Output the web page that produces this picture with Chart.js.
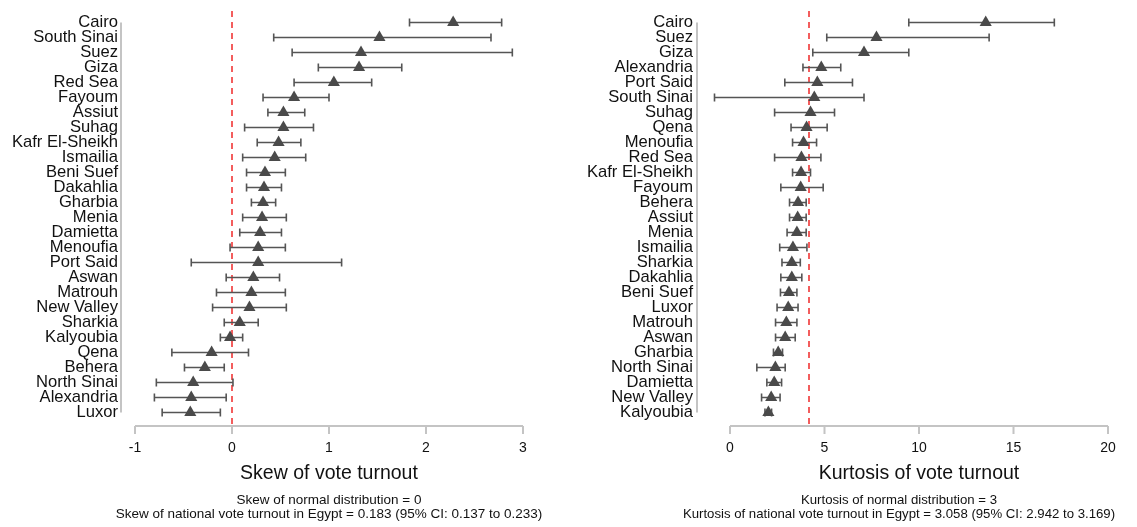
<!DOCTYPE html>
<html>
<head>
<meta charset="utf-8">
<script src="https://cdn.jsdelivr.net/npm/chart.js@4/dist/chart.umd.min.js"></script>
<style>
  body { margin: 0; background: #fff; }
  #wrap { position: relative; width: 1137px; height: 527px; }
  #skewBox { position: absolute; left: 0; top: 0; width: 565px; height: 527px; }
  #kurtBox { position: absolute; left: 565px; top: 0; width: 572px; height: 527px; }
  .note { position: absolute; top: 493px; width: 600px; text-align: center; white-space: nowrap;
    font: 13.5px/14px "Liberation Sans", Arial, sans-serif; color: #111; }
</style>
</head>
<body>
<div id="wrap">
  <div id="skewBox"><canvas id="skewChart"></canvas></div>
  <div id="kurtBox"><canvas id="kurtChart"></canvas></div>
  <div class="note" style="left:29px">Skew of normal distribution = 0<br>Skew of national vote turnout in Egypt = 0.183 (95% CI: 0.137 to 0.233)</div>
  <div class="note" style="left:599px;font-size:13.2px">Kurtosis of normal distribution = 3<br>Kurtosis of national vote turnout in Egypt = 3.058 (95% CI: 2.942 to 3.169)</div>
</div>
<script>
// left panel: skew per governorate (point, 95% CI low, high)
var skewNames = ["Cairo", "South Sinai", "Suez", "Giza", "Red Sea", "Fayoum", "Assiut", "Suhag",
  "Kafr El-Sheikh", "Ismailia", "Beni Suef", "Dakahlia", "Gharbia", "Menia", "Damietta", "Menoufia",
  "Port Said", "Aswan", "Matrouh", "New Valley", "Sharkia", "Kalyoubia", "Qena", "Behera",
  "North Sinai", "Alexandria", "Luxor"];
var skewVals = [2.28, 1.52, 1.33, 1.31, 1.05, 0.64, 0.53, 0.53, 0.48, 0.44, 0.34, 0.33, 0.32, 0.31,
  0.29, 0.27, 0.27, 0.22, 0.20, 0.18, 0.08, -0.02, -0.21, -0.28, -0.40, -0.42, -0.43];
var skewLow = [1.83, 0.43, 0.62, 0.89, 0.64, 0.32, 0.37, 0.13, 0.26, 0.11, 0.15, 0.15, 0.20, 0.11,
  0.08, -0.02, -0.42, -0.06, -0.16, -0.20, -0.08, -0.12, -0.62, -0.49, -0.78, -0.80, -0.72];
var skewHigh = [2.78, 2.67, 2.89, 1.75, 1.44, 1.00, 0.75, 0.84, 0.71, 0.76, 0.55, 0.51, 0.45, 0.56,
  0.51, 0.55, 1.13, 0.49, 0.55, 0.56, 0.27, 0.11, 0.17, -0.08, 0.01, -0.06, -0.12];
var skewTicks = [-1, 0, 1, 2, 3];
var skewRef = 0;

// right panel: kurtosis per governorate
var kurtNames = ["Cairo", "Suez", "Giza", "Alexandria", "Port Said", "South Sinai", "Suhag", "Qena",
  "Menoufia", "Red Sea", "Kafr El-Sheikh", "Fayoum", "Behera", "Assiut", "Menia", "Ismailia",
  "Sharkia", "Dakahlia", "Beni Suef", "Luxor", "Matrouh", "Aswan", "Gharbia", "North Sinai",
  "Damietta", "New Valley", "Kalyoubia"];
var kurtVals = [13.53, 7.75, 7.09, 4.83, 4.62, 4.46, 4.26, 4.05, 3.89, 3.78, 3.76, 3.74, 3.60, 3.58,
  3.54, 3.33, 3.27, 3.27, 3.12, 3.08, 2.98, 2.92, 2.55, 2.40, 2.34, 2.18, 2.03];
var kurtLow = [9.46, 5.12, 4.38, 3.86, 2.90, -0.82, 2.36, 3.23, 3.31, 2.36, 3.31, 2.69, 3.15, 3.15,
  3.02, 2.63, 2.75, 2.69, 2.67, 2.49, 2.41, 2.41, 2.30, 1.42, 1.95, 1.67, 1.85];
var kurtHigh = [17.16, 13.71, 9.46, 5.86, 6.48, 7.09, 5.53, 5.14, 4.58, 4.81, 4.26, 4.93, 4.03, 4.03,
  4.03, 4.07, 3.72, 3.80, 3.54, 3.60, 3.54, 3.45, 2.78, 2.92, 2.73, 2.65, 2.20];
var kurtTicks = [0, 5, 10, 15, 20];
var kurtRef = 4.18;

var axisGrey = "#c4c4c4";

// whiskers, red reference line and stata-like axes
var stataPlugin = {
  id: "stata",
  beforeDatasetsDraw: function(chart) {
    var o = chart.options.plugins.stata;
    var ctx = chart.ctx, xs = chart.scales.x, ys = chart.scales.y, area = chart.chartArea;
    var axisY = area.bottom + 6;
    ctx.save();
    // y axis line
    ctx.strokeStyle = axisGrey;
    ctx.lineWidth = 2;
    ctx.beginPath();
    ctx.moveTo(area.left - o.yGap, ys.getPixelForValue(0));
    ctx.lineTo(area.left - o.yGap, ys.getPixelForValue(o.names.length - 1));
    ctx.stroke();
    // x axis line + ticks
    var t0 = xs.getPixelForValue(o.ticks[0]), t1 = xs.getPixelForValue(o.ticks[o.ticks.length - 1]);
    ctx.beginPath();
    ctx.moveTo(t0, axisY);
    ctx.lineTo(t1, axisY);
    o.ticks.forEach(function(t) {
      var px = xs.getPixelForValue(t);
      ctx.moveTo(px, axisY);
      ctx.lineTo(px, axisY + 8);
    });
    ctx.stroke();
    // red dashed line
    var rx = xs.getPixelForValue(o.ref);
    ctx.strokeStyle = "#f02828";
    ctx.lineWidth = 1.5;
    ctx.setLineDash([6, 5]);
    ctx.beginPath();
    ctx.moveTo(rx, 11);
    ctx.lineTo(rx, axisY);
    ctx.stroke();
    ctx.setLineDash([]);
    // confidence intervals
    ctx.strokeStyle = "#555";
    ctx.lineWidth = 1.6;
    for (var i = 0; i < o.names.length; i++) {
      var y = ys.getPixelForValue(i);
      var a = xs.getPixelForValue(o.low[i]), b = xs.getPixelForValue(o.high[i]);
      ctx.beginPath();
      ctx.moveTo(a, y); ctx.lineTo(b, y);
      ctx.moveTo(a, y - 4); ctx.lineTo(a, y + 4);
      ctx.moveTo(b, y - 4); ctx.lineTo(b, y + 4);
      ctx.stroke();
    }
    ctx.restore();
  }
};

function makePanel(canvasId, names, vals, low, high, ticks, ref, xTitle, cfg) {
  var pts = names.map(function(n, i) { return { x: vals[i], y: n }; });
  return new Chart(document.getElementById(canvasId), {
    type: "scatter",
    data: {
      datasets: [{
        data: pts,
        pointStyle: "triangle",
        pointRadius: 7,
        pointHoverRadius: 7,
        backgroundColor: "#4a4a4a",
        borderColor: "#4a4a4a",
        borderWidth: 0
      }]
    },
    options: {
      responsive: true,
      maintainAspectRatio: false,
      animation: false,
      layout: { padding: { top: 15, right: cfg.padRight, left: 0, bottom: 38.5 } },
      scales: {
        x: {
          type: "linear",
          min: ticks[0],
          max: ticks[ticks.length - 1],
          afterBuildTicks: function(s) { s.ticks = ticks.map(function(v) { return { value: v }; }); },
          afterFit: function(s) { s.height = 68.5; s.paddingLeft = 0; s.paddingRight = 0; },
          grid: { display: false, drawTicks: false },
          border: { display: false },
          ticks: { padding: 19.6, color: "#111", font: { family: "Liberation Sans", size: 14 } },
          title: {
            display: true,
            text: xTitle,
            color: "#111",
            font: { family: "Liberation Sans", size: 19.5 },
            padding: { top: 0, bottom: 3.5 }
          }
        },
        y: {
          type: "category",
          labels: names,
          offset: true,
          afterFit: function(s) { s.width = cfg.yWidth; s.paddingTop = 0; s.paddingBottom = 0; },
          grid: { display: false, drawTicks: false },
          border: { display: false },
          ticks: { padding: cfg.labelPad, color: "#111", autoSkip: false, font: { family: "Liberation Sans", size: 16.6 } }
        }
      },
      plugins: {
        legend: { display: false },
        tooltip: { enabled: false },
        stata: { names: names, low: low, high: high, ticks: ticks, ref: ref, yGap: cfg.yGap }
      }
    },
    plugins: [stataPlugin]
  });
}

makePanel("skewChart", skewNames, skewVals, skewLow, skewHigh, skewTicks, skewRef,
  "Skew of vote turnout", { padRight: 42, yWidth: 135, labelPad: 17, yGap: 14 });

makePanel("kurtChart", kurtNames, kurtVals, kurtLow, kurtHigh, kurtTicks, kurtRef,
  "Kurtosis of vote turnout", { padRight: 29, yWidth: 165, labelPad: 37, yGap: 33 });
</script>
</body>
</html>
